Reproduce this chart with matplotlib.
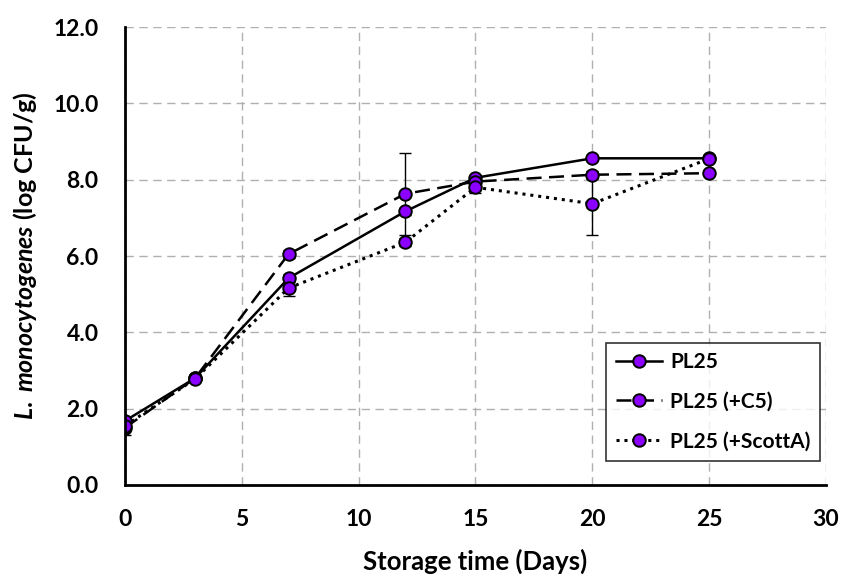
import numpy as np
from matplotlib import pyplot as plt

# data
days = [0, 3, 7, 12, 15, 20, 25]
pl25 = [1.68, 2.80, 5.42, 7.17, 8.05, 8.56, 8.56]
pl25_c5 = [1.50, 2.80, 6.05, 7.63, 7.95, 8.13, 8.17]
pl25_scotta = [1.55, 2.78, 5.16, 6.36, 7.80, 7.37, 8.55]

err_pl25 = [0.10, 0.05, 0.10, 0.10, 0.05, 0.05, 0.05]
err_c5 = [0.20, 0.05, 0.10, 1.08, 0.10, 0.10, 0.05]
err_scotta = [0.10, 0.05, 0.22, 0.10, 0.15, 0.82, 0.05]

labels = ['PL25', 'PL25 (+C5)', 'PL25 (+ScottA)']

plt.rcParams['font.family'] = ['Lato', 'DejaVu Sans']
plt.rcParams['font.weight'] = 'bold'
plt.rcParams['axes.labelweight'] = 'bold'
plt.rcParams['mathtext.fontset'] = 'custom'
plt.rcParams['mathtext.it'] = 'Lato:italic:bold'
plt.rcParams['mathtext.rm'] = 'Lato:bold'

fig = plt.figure(figsize=(8.48, 5.8), dpi=100)
ax = fig.add_axes([0.1474, 0.1638, 0.8266, 0.7896])

purple = '#8B00FF'
series = [(pl25, err_pl25, '-', 1.8), (pl25_c5, err_c5, (0, (6, 3)), 1.8), (pl25_scotta, err_scotta, (0, (1, 1.6)), 2.2)]
for (vals, errs, ls, lw), lab in zip(series, labels):
    ax.errorbar(days, vals, yerr=errs, color='black', ls='none', lw=1.0, capsize=4, capthick=1.0, zorder=2)
    ax.plot(days, vals, color='black', ls=ls, lw=lw, marker='o', markersize=9,
            markerfacecolor=purple, markeredgecolor='black', markeredgewidth=1.4, label=lab, zorder=3)

ax.set_xlim(0, 30)
ax.set_ylim(0, 12)
ax.set_xticks(np.arange(0, 31, 5))
ax.set_yticks(np.arange(0, 12.1, 2))
ax.set_yticklabels([f'{v:.1f}' for v in np.arange(0, 12.1, 2)])
ax.tick_params(labelsize=16.5, length=0)
ax.tick_params(axis='x', pad=17)
ax.tick_params(axis='y', pad=19)
ax.grid(True, color='#b0b0b0', ls=(0, (6, 4)), lw=1.0)
ax.set_axisbelow(True)

for s in ['top', 'right']:
    ax.spines[s].set_visible(False)
for s in ['left', 'bottom']:
    ax.spines[s].set_linewidth(2)
    ax.spines[s].set_zorder(5)

ax.set_xlabel('Storage time (Days)', fontsize=18.5, labelpad=14)
ax.set_ylabel(r'$\it{L.}$ $\it{monocytogenes}$ (log CFU/g)', fontsize=18, labelpad=10)

leg = ax.legend(loc='lower right', bbox_to_anchor=(1.006, 0.03), fontsize=15, frameon=True,
                fancybox=False, edgecolor='black', handlelength=2.2, borderpad=0.45, labelspacing=0.95,
                handletextpad=0.4)
leg.get_frame().set_linewidth(1.2)

fig.savefig('out.png', dpi=100)
